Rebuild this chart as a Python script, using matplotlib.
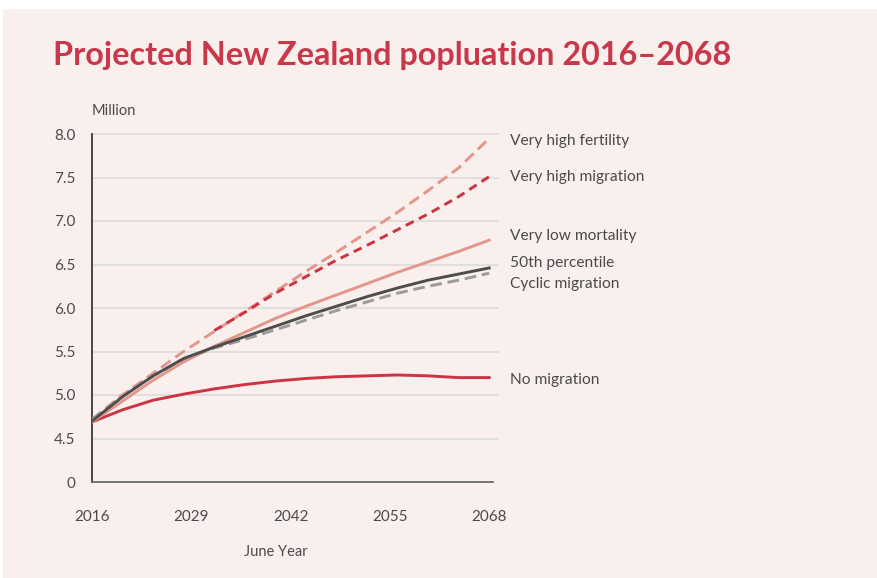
import matplotlib
matplotlib.use("Agg")
import matplotlib.pyplot as plt
from matplotlib.patches import Rectangle

plt.rcParams['font.family'] = ['Lato', 'DejaVu Sans']

years = [2016, 2020, 2024, 2028, 2032, 2036, 2040, 2044, 2048, 2052, 2056, 2060, 2064, 2068]
fertility = [4.70, 5.00, 5.25, 5.50, 5.73, 5.96, 6.19, 6.42, 6.64, 6.87, 7.10, 7.35, 7.61, 7.95]
migration_years = [2032, 2036, 2040, 2044, 2048, 2052, 2056, 2060, 2064, 2068]
migration = [5.74, 5.95, 6.17, 6.36, 6.55, 6.72, 6.90, 7.08, 7.28, 7.51]
mortality = [4.69, 4.93, 5.17, 5.38, 5.56, 5.72, 5.88, 6.02, 6.15, 6.28, 6.41, 6.53, 6.65, 6.78]
median = [4.70, 4.98, 5.22, 5.42, 5.55, 5.67, 5.79, 5.91, 6.02, 6.13, 6.23, 6.32, 6.39, 6.46]
cyclic = [4.72, 5.00, 5.22, 5.41, 5.54, 5.64, 5.75, 5.86, 5.97, 6.07, 6.17, 6.25, 6.32, 6.40]
no_migration = [4.69, 4.83, 4.94, 5.01, 5.07, 5.12, 5.16, 5.19, 5.21, 5.22, 5.23, 5.22, 5.20, 5.20]

y_ticks = [4.0, 4.5, 5.0, 5.5, 6.0, 6.5, 7.0, 7.5, 8.0]
y_labels = ['0', '4.5', '5.0', '5.5', '6.0', '6.5', '7.0', '7.5', '8.0']
x_ticks = [2016, 2029, 2042, 2055, 2068]

series_names = ['Very high fertility', 'Very high migration', 'Very low mortality',
                '50th percentile', 'Cyclic migration', 'No migration']
label_y = [7.92, 7.51, 6.83, 6.52, 6.28, 5.17]

pink = '#e3968b'
red = '#cc3344'
dark = '#4d4d4d'
grey = '#9b9b9b'
text_col = '#4a4a4a'

fig = plt.figure(figsize=(8.78, 5.78), dpi=100, facecolor='white')
bg = Rectangle((3 / 878, 0), 874 / 878, 1 - 9 / 578, transform=fig.transFigure,
               facecolor='#f9efed', edgecolor='none', zorder=-5)
fig.add_artist(bg)

ax = fig.add_axes([92 / 878, 1 - 482 / 578, 401 / 878, 348 / 578])
ax.set_facecolor('none')
ax.set_zorder(2)

for y in y_ticks[1:]:
    ax.axhline(y, xmin=0, xmax=1.012, color='#dcdcdc', lw=1.2, clip_on=False, zorder=1)

ax.plot(years, no_migration, color=red, lw=2.1, zorder=3)
ax.plot(years, cyclic, color=grey, lw=2.1, ls=(0, (4, 2)), zorder=3)
ax.plot(years, median, color=dark, lw=2.1, zorder=4)
ax.plot(years, mortality, color=pink, lw=2.1, zorder=3)
ax.plot(years, fertility, color=pink, lw=2.1, ls=(0, (4, 2)), zorder=3)
ax.plot(migration_years, migration, color=red, lw=2.1, ls=(0, (3, 2)), zorder=3)

ax.set_xlim(2016, 2068.5)
ax.set_ylim(4.0, 8.0)
ax.set_yticks(y_ticks)
ax.set_yticklabels(y_labels)
ax.set_xticks(x_ticks)
ax.tick_params(length=0, labelsize=11, labelcolor=text_col)
ax.tick_params(axis='y', pad=12)
ax.tick_params(axis='x', pad=20)

for side in ['top', 'right']:
    ax.spines[side].set_visible(False)
ax.spines['left'].set_color('#3a3a3a')
ax.spines['left'].set_linewidth(1.3)
ax.spines['bottom'].set_color('#6a6a6a')
ax.spines['bottom'].set_linewidth(1.3)

for name, y in zip(series_names, label_y):
    ax.text(2070.7, y, name, fontsize=11.2, color=text_col, va='center', ha='left', clip_on=False)

fig.text(92 / 878, 1 - 111 / 578, 'Million', fontsize=10.5, color=text_col, va='center', ha='left')
fig.text(276 / 878, 1 - 552 / 578, 'June Year', fontsize=10.5, color=text_col, va='center', ha='center')
fig.text(53 / 878, 1 - 56 / 578, 'Projected New Zealand popluation 2016\u20132068',
         fontsize=23.3, fontweight='bold', color='#c8374a', va='center', ha='left')

fig.savefig('out.png', dpi=100, facecolor=fig.get_facecolor())
